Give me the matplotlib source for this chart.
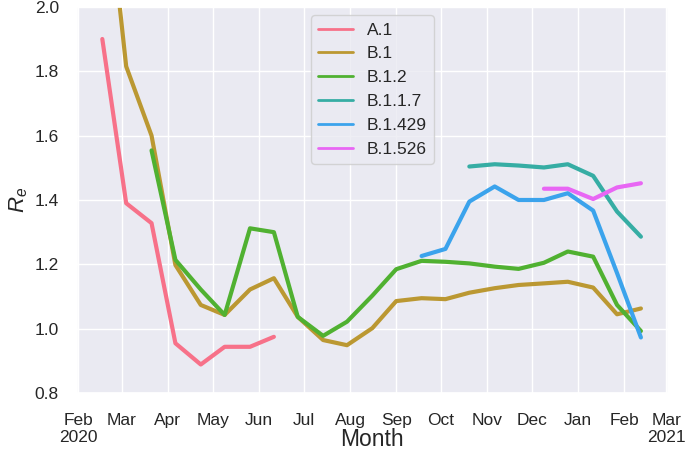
import matplotlib
matplotlib.use("Agg")
import matplotlib.pyplot as plt
import seaborn as sns
import numpy as np
import pandas as pd

sns.set_theme(style="darkgrid")
plt.rcParams["font.family"] = ["Liberation Sans", "DejaVu Sans"]
plt.rcParams["mathtext.fontset"] = "custom"
plt.rcParams["mathtext.it"] = "Liberation Sans:italic"
plt.rcParams["mathtext.rm"] = "Liberation Sans"

# sampling dates (about every 16 days)
dates = pd.to_datetime([
    "2020-02-17", "2020-03-04", "2020-03-21", "2020-04-06", "2020-04-23",
    "2020-05-09", "2020-05-26", "2020-06-11", "2020-06-27", "2020-07-14",
    "2020-07-30", "2020-08-16", "2020-09-01", "2020-09-18", "2020-10-04",
    "2020-10-20", "2020-11-06", "2020-11-22", "2020-12-09", "2020-12-25",
    "2021-01-11", "2021-01-27", "2021-02-12",
])

nan = np.nan
a1 = [1.90, 1.39, 1.328, 0.955, 0.889, 0.944, 0.944, 0.975] + [nan] * 15
b1 = [2.50, 1.815, 1.60, 1.198, 1.074, 1.043, 1.122, 1.157, 1.037, 0.965,
      0.949, 1.002, 1.086, 1.095, 1.092, 1.112, 1.126, 1.136, 1.141, 1.146,
      1.128, 1.045, 1.063]
b12 = [nan, nan, 1.554, 1.214, 1.122, 1.043, 1.312, 1.300, 1.037, 0.978,
       1.022, 1.103, 1.185, 1.211, 1.208, 1.203, 1.193, 1.186, 1.205, 1.240,
       1.224, 1.074, 0.993]
b117 = [nan] * 15 + [1.504, 1.511, 1.507, 1.501, 1.511, 1.475, 1.364, 1.286]
b1429 = [nan] * 13 + [1.226, 1.248, 1.395, 1.442, 1.400, 1.400, 1.421, 1.367,
                      1.173, 0.973]
b1526 = [nan] * 18 + [1.435, 1.435, 1.403, 1.439, 1.452]

lineages = ["A.1", "B.1", "B.1.2", "B.1.1.7", "B.1.429", "B.1.526"]
series = [a1, b1, b12, b117, b1429, b1526]
colors = sns.color_palette("husl", 6)

fig = plt.figure(figsize=(6.87, 4.54), dpi=100)
ax = fig.add_axes([0.112, 0.134, 0.86, 0.851])

for name, vals, c in zip(lineages, series, colors):
    ax.plot(dates, vals, color=c, lw=3, label=name)

ax.set_ylim(0.8, 2.0)
ax.set_xlim(pd.Timestamp("2020-01-31"), pd.Timestamp("2021-03-02"))

ticks = pd.date_range("2020-02-01", "2021-03-01", freq="MS")
labels = [d.strftime("%b") for d in ticks]
labels[0] = labels[0] + "\n2020"
labels[-1] = labels[-1] + "\n2021"
ax.set_xticks(ticks)
ax.set_xticklabels(labels)
ax.tick_params(axis="both", labelsize=12.5)
ax.tick_params(axis="x", pad=8)
ax.tick_params(axis="y", pad=7)

ax.set_xlabel("Month", fontsize=16.5, labelpad=-12)
ax.set_ylabel("$R_e$", fontsize=16, labelpad=3)

leg = ax.legend(loc="upper center", fontsize=12.5)
for line in leg.get_lines():
    line.set_linewidth(2)

fig.savefig("out.png", dpi=100)
